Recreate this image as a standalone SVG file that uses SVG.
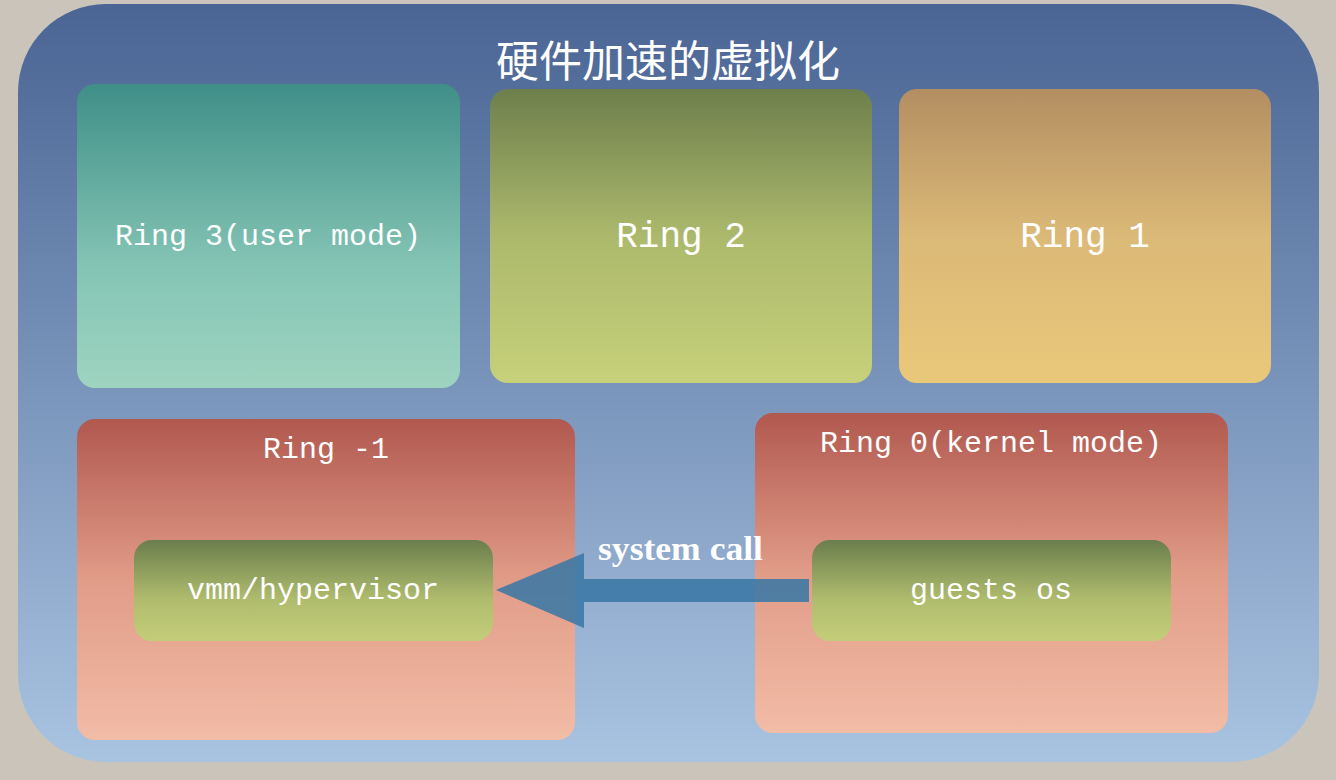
<svg xmlns="http://www.w3.org/2000/svg" width="1336" height="780" viewBox="0 0 1336 780">
<defs>
<linearGradient id="gOuter" x1="0" y1="0" x2="0" y2="1"><stop offset="0" stop-color="#4a6494"/><stop offset="1" stop-color="#a9c4e1"/></linearGradient>
<linearGradient id="gTeal" x1="0" y1="0" x2="0" y2="1"><stop offset="0" stop-color="#3f8f88"/><stop offset="0.6" stop-color="#84c4b4"/><stop offset="1" stop-color="#9ed4c0"/></linearGradient>
<linearGradient id="gOlive" x1="0" y1="0" x2="0" y2="1"><stop offset="0" stop-color="#6d7f4c"/><stop offset="0.5" stop-color="#acb96c"/><stop offset="1" stop-color="#c7d17a"/></linearGradient>
<linearGradient id="gGold" x1="0" y1="0" x2="0" y2="1"><stop offset="0" stop-color="#b38e62"/><stop offset="0.5" stop-color="#dbb977"/><stop offset="1" stop-color="#eac87a"/></linearGradient>
<linearGradient id="gRed" x1="0" y1="0" x2="0" y2="1"><stop offset="0" stop-color="#b1584f"/><stop offset="0.5" stop-color="#e19c88"/><stop offset="1" stop-color="#f2bca6"/></linearGradient>
<linearGradient id="gInner" x1="0" y1="0" x2="0" y2="1"><stop offset="0" stop-color="#6a7e4d"/><stop offset="0.6" stop-color="#b1bd6e"/><stop offset="1" stop-color="#c3cd79"/></linearGradient>
</defs>
<style>
.lbl{font-family:"Liberation Mono","DejaVu Sans Mono",monospace;fill:#ffffff;text-anchor:middle;font-size:30px}
.big{font-size:36px}
.title{font-family:"Noto Sans CJK SC",sans-serif;fill:#ffffff;text-anchor:middle;font-size:43px}
.sc{font-family:"Liberation Serif",serif;font-weight:bold;fill:#ffffff;font-size:34px}
</style>
<rect width="1336" height="780" fill="#cbc4bb"/>
<g id="outer">
<rect x="18" y="4" width="1301" height="758" rx="88" ry="88" fill="url(#gOuter)"/>
<text class="title" x="668" y="77">硬件加速的虚拟化</text>
</g>
<g id="ring3"><rect x="77" y="84" width="383" height="304" rx="18" fill="url(#gTeal)"/><text class="lbl" x="268" y="245">Ring 3(user mode)</text></g>
<g id="ring2"><rect x="490" y="89" width="382" height="294" rx="18" fill="url(#gOlive)"/><text class="lbl big" x="681" y="247">Ring 2</text></g>
<g id="ring1"><rect x="899" y="89" width="372" height="294" rx="18" fill="url(#gGold)"/><text class="lbl big" x="1085" y="247">Ring 1</text></g>
<g id="ringm1"><rect x="77" y="419" width="498" height="321" rx="18" fill="url(#gRed)"/><text class="lbl" x="326" y="458">Ring -1</text></g>
<g id="ring0"><rect x="755" y="413" width="473" height="320" rx="18" fill="url(#gRed)"/><text class="lbl" x="991" y="452">Ring 0(kernel mode)</text></g>
<g id="vmm"><rect x="134" y="540" width="359" height="101" rx="18" fill="url(#gInner)"/><text class="lbl" x="313" y="599">vmm/hypervisor</text></g>
<g id="guests"><rect x="812" y="540" width="359" height="101" rx="18" fill="url(#gInner)"/><text class="lbl" x="991" y="599">guests os</text></g>
<g id="connectors">
<polygon points="809,579 584,579 584,553 496,590 584,628 584,602 809,602" fill="#3b78a5" fill-opacity="0.88"/>
<text class="sc" x="598" y="560" textLength="165" lengthAdjust="spacingAndGlyphs">system call</text>
</g>
</svg>
